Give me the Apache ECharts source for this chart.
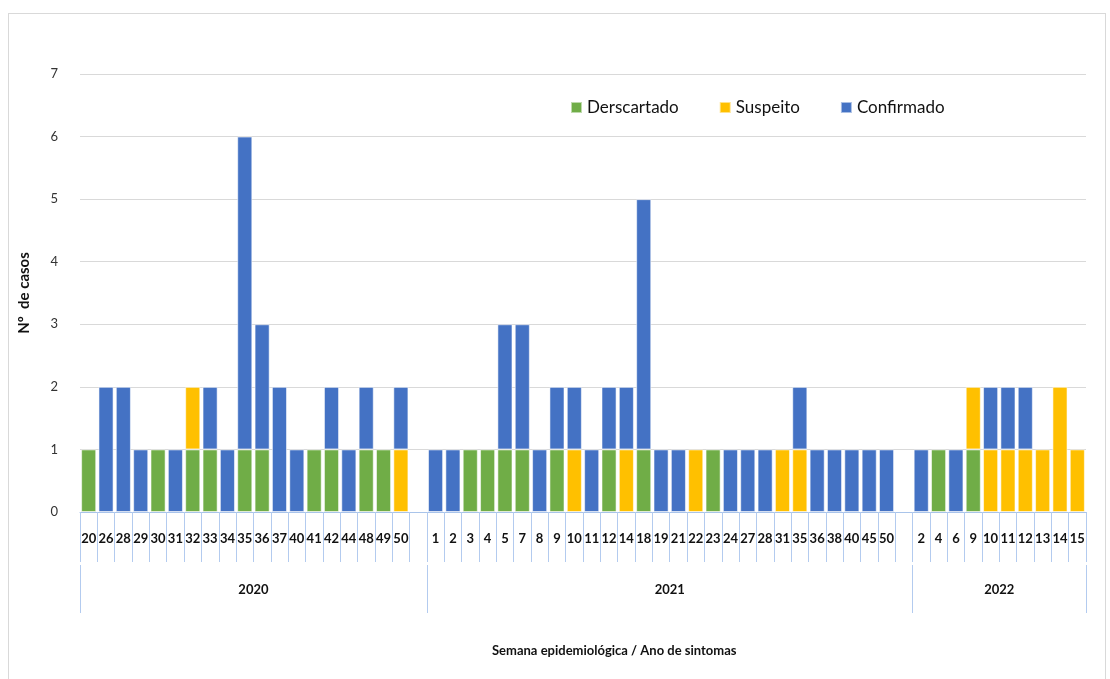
<!DOCTYPE html>
<html>
<head>
<meta charset="utf-8">
<script src="https://cdn.jsdelivr.net/npm/echarts@6/dist/echarts.min.js"></script>
<style>
  html, body { margin: 0; padding: 0; background: #fff; }
  #chart { width: 1110px; height: 679px; }
  #frame {
    position: absolute; left: 8px; top: 13px; width: 1096px; height: 700px;
    border: 1px solid #d9d9d9; pointer-events: none;
  }
</style>
</head>
<body>
<div id="chart"></div>
<div id="frame"></div>
<script>
  // semanas epidemiológicas por ano
  const weeks2020 = ["20", "26", "28", "29", "30", "31", "32", "33", "34", "35", "36", "37", "40", "41", "42", "44", "48", "49", "50"];
  const weeks2021 = ["1", "2", "3", "4", "5", "7", "8", "9", "10", "11", "12", "14", "18", "19", "21", "22", "23", "24", "27", "28", "31", "35", "36", "38", "40", "45", "50"];
  const weeks2022 = ["2", "4", "6", "9", "10", "11", "12", "13", "14", "15"];
  const years = ["2020", "2021", "2022"];

  // one empty slot after 2020 and after 2021
  const categories = [...weeks2020, "", ...weeks2021, "", ...weeks2022];

  const descartado = [
    1, 0, 0, 0, 1, 0, 1, 1, 0, 1, 1, 0, 0, 1, 1, 0, 1, 1, 0,
    0,
    0, 0, 1, 1, 1, 1, 0, 1, 0, 0, 1, 0, 1, 0, 0, 0, 1, 0, 0, 0, 0, 0, 0, 0, 0, 0, 0,
    0,
    0, 1, 0, 1, 0, 0, 0, 0, 0, 0
  ];
  const suspeito = [
    0, 0, 0, 0, 0, 0, 1, 0, 0, 0, 0, 0, 0, 0, 0, 0, 0, 0, 1,
    0,
    0, 0, 0, 0, 0, 0, 0, 0, 1, 0, 0, 1, 0, 0, 0, 1, 0, 0, 0, 0, 1, 1, 0, 0, 0, 0, 0,
    0,
    0, 0, 0, 1, 1, 1, 1, 1, 2, 1
  ];
  const confirmado = [
    0, 2, 2, 1, 0, 1, 0, 1, 1, 5, 2, 2, 1, 0, 1, 1, 1, 0, 1,
    0,
    1, 1, 0, 0, 2, 2, 1, 1, 1, 1, 1, 1, 4, 1, 1, 0, 0, 1, 1, 1, 0, 1, 1, 1, 1, 1, 1,
    0,
    1, 0, 1, 0, 1, 1, 1, 0, 0, 0
  ];

  // year groups: each 2020/2021 group also holds its empty slot
  const spans = [weeks2020.length + 1, weeks2021.length + 1, weeks2022.length];
  const bounds = [0];
  spans.forEach((s) => bounds.push(bounds[bounds.length - 1] + s));
  const mids = spans.map((s, i) => bounds[i] + s / 2);

  const font = "Lato";
  const tickBlue = "#b3cbef";

  const chart = echarts.init(document.getElementById("chart"));

  const bar = (name, data, color) => ({
    name,
    type: "bar",
    stack: "total",
    barCategoryGap: "13%",
    data: data.map((v) => (v ? v : "-")),
    itemStyle: { color, borderColor: "rgba(255,255,255,0.55)", borderWidth: 1 },
  });

  const options = {
    animation: false,
    textStyle: { fontFamily: font },
    title: {
      text: "Semana epidemiológica / Ano de sintomas",
      left: 487,
      top: 639,
      textStyle: { fontFamily: font, fontSize: 13, fontWeight: "bold", color: "#111" },
    },
    legend: {
      left: 565,
      top: 94,
      icon: "rect",
      itemWidth: 11,
      itemHeight: 11,
      itemGap: 40,
      textStyle: { fontFamily: font, fontSize: 17, color: "#111" },
      data: ["Derscartado", "Suspeito", "Confirmado"],
    },
    grid: { left: 80, right: 24, top: 74, bottom: 167 },
    xAxis: [
      {
        type: "category",
        data: categories,
        axisLine: { lineStyle: { color: "#a9c4ea", width: 1 } },
        axisTick: { show: true, interval: 0, length: 50, lineStyle: { color: tickBlue, width: 1 } },
        axisLabel: {
          interval: 0,
          margin: 20,
          fontFamily: font,
          fontSize: 13,
          fontWeight: "bold",
          color: "#111",
        },
      },
      {
        type: "value",
        position: "bottom",
        offset: 53,
        min: 0,
        max: categories.length,
        axisLine: { show: false },
        splitLine: { show: false },
        axisTick: { show: true, length: 48, customValues: bounds, lineStyle: { color: tickBlue } },
        axisLabel: {
          customValues: mids,
          margin: 18,
          fontFamily: font,
          fontSize: 13,
          fontWeight: "bold",
          color: "#111",
          formatter: (v) => years[mids.indexOf(v)] || "",
        },
      },
    ],
    yAxis: {
      type: "value",
      min: 0,
      max: 7,
      interval: 1,
      name: "Nº  de casos",
      nameLocation: "middle",
      nameGap: 48,
      nameTextStyle: { fontFamily: font, fontSize: 15, fontWeight: "bold", color: "#111" },
      axisLine: { show: false },
      axisTick: { show: false },
      axisLabel: { margin: 22, fontFamily: font, fontSize: 13, color: "#333" },
      splitLine: { lineStyle: { color: "#d9d9d9" } },
    },
    series: [
      bar("Derscartado", descartado, "#70ad47"),
      bar("Suspeito", suspeito, "#ffc000"),
      bar("Confirmado", confirmado, "#4472c4"),
    ],
  };

  chart.setOption(options);
</script>
</body>
</html>
